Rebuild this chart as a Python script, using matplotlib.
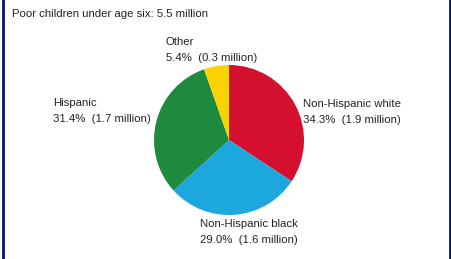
import matplotlib.pyplot as plt

plt.rcParams['font.family'] = ['Liberation Sans', 'DejaVu Sans']

groups = ['Non-Hispanic white', 'Non-Hispanic black', 'Hispanic', 'Other']
shares = [34.3, 29.0, 31.4, 5.4]
millions = [1.9, 1.6, 1.7, 0.3]
colors = ['#d5102e', '#1ca8dd', '#1e8a3e', '#fcd200']
title = 'Poor children under age six: 5.5 million'

W, H = 451, 259
fig = plt.figure(figsize=(W / 100, H / 100), dpi=100)
ax = fig.add_axes([0, 0, 1, 1])

ax.pie(shares, colors=colors, startangle=90, counterclock=False,
       center=(229, H - 140), radius=75, frame=True,
       wedgeprops={'linewidth': 0})

# label anchors (pixel coords from top-left)
label_pos = {
    'Non-Hispanic white': (303, 104),
    'Non-Hispanic black': (200, 224),
    'Hispanic': (53, 103),
    'Other': (166, 42),
}
for g, s, m in zip(groups, shares, millions):
    x, y = label_pos[g]
    ax.text(x, H - y, g, fontsize=8.2, ha='left', va='center', color='#222222')
    ax.text(x, H - y - 16, f'{s:.1f}%  ({m} million)', fontsize=8.2,
            ha='left', va='center', color='#222222')

ax.text(12, H - 14, title, fontsize=8.2, ha='left', va='center', color='#222222')

ax.set_xlim(0, W)
ax.set_ylim(0, H)
ax.set_aspect('auto')
ax.set_xticks([])
ax.set_yticks([])
for side in ['top', 'bottom']:
    ax.spines[side].set_visible(False)
for side in ['left', 'right']:
    ax.spines[side].set_color('#0a1470')
    ax.spines[side].set_linewidth(2)
ax.spines['left'].set_position(('data', 3))
ax.spines['right'].set_position(('data', 449.5))

fig.savefig('out.png', dpi=100)
